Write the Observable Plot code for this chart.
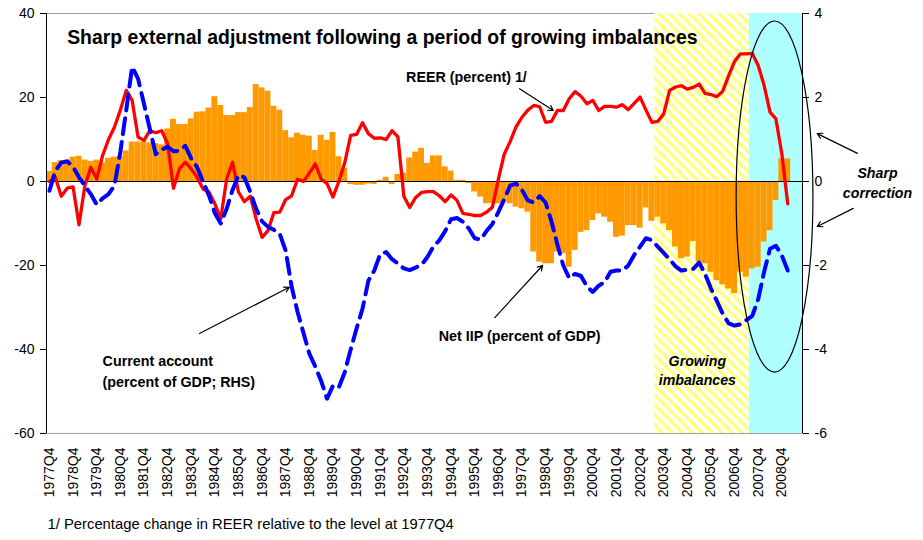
<!DOCTYPE html>
<html>
<head>
<meta charset="utf-8">
<script src="https://cdn.jsdelivr.net/npm/d3@7"></script>
<script src="https://cdn.jsdelivr.net/npm/@observablehq/plot@0.6"></script>
<style>
  body { margin: 0; background: white; }
</style>
</head>
<body>
<div id="chart"></div>
<script>
// ---------- categories ----------
const firstYear = 1977, firstQuarter = 4, nQuarters = 128;
const quarters = [];
for (let k = 0; k < nQuarters; k++) {
  const q0 = firstQuarter - 1 + k;
  quarters.push(`${firstYear + Math.floor(q0 / 4)}Q${(q0 % 4) + 1}`);
}
const tickLabels = quarters.filter(q => q.endsWith("Q4"));

// ---------- series ----------
// Net IIP (percent of GDP), left axis
const niip = [2.4, 4.5, 5.0, 5.1, 5.8, 6.0, 5.1, 4.8, 5.1, 4.4,
  5.5, 5.8, 5.9, 7.3, 9.4, 9.4, 9.4, 9.2, 9.0, 8.7,
  12.5, 14.8, 13.6, 13.6, 14.9, 16.5, 16.6, 17.5, 20.2, 18.1,
  15.7, 15.7, 16.4, 16.4, 17.6, 23.1, 22.3, 21.5, 17.9, 17.0,
  12.1, 10.4, 11.5, 11.0, 10.8, 7.4, 11.0, 9.8, 11.7, 5.9,
  3.1, -0.7, -0.9, -0.9, -0.6, -0.7, 0.3, 1.0, -0.7, 1.7,
  2.0, 5.6, 7.0, 7.9, 4.3, 6.1, 6.1, 3.5, 2.5, 0.3,
  0.3, -0.5, -2.5, -3.7, -5.3, -5.2, -5.3, -4.9, -5.3, -6.1,
  -6.5, -7.3, -16.8, -19.2, -19.6, -19.6, -16.8, -17.2, -20.4, -16.4,
  -12.1, -11.7, -9.3, -7.7, -8.5, -9.7, -13.3, -13.0, -10.5, -10.5,
  -11.1, -6.3, -9.5, -8.5, -10.1, -11.7, -15.6, -18.4, -18.0, -14.3,
  -19.2, -19.6, -21.6, -23.6, -24.6, -25.6, -26.7, -21.6, -22.8, -20.8,
  -20.4, -14.4, -11.7, -4.5, 5.4, 5.4];

// REER (percent change vs 1977Q4), left axis
const reer = [0.0, 1.0, -3.5, -1.6, -1.3, -10.3, -1.0, 3.4, 0.6, 6.2,
  10.0, 12.9, 17.0, 21.7, 19.3, 10.6, 9.8, 12.1, 11.6, 12.1,
  9.0, -1.6, 3.0, 4.6, 3.0, 1.0, -1.8, -2.5, -5.3, -8.9,
  0.6, 4.6, -2.5, -4.8, -3.5, -8.9, -13.3, -11.7, -7.4, -7.3,
  -4.3, -3.4, 0.5, 0.0, 2.0, 4.2, 0.6, -0.5, -3.7, 0.0,
  4.5, 11.0, 11.2, 14.0, 11.4, 10.3, 10.4, 10.0, 12.1, 10.6,
  -3.5, -6.2, -3.8, -2.6, -2.4, -2.4, -3.4, -4.8, -3.2, -4.5,
  -7.6, -7.8, -8.1, -8.1, -7.3, -6.1, 0.5, 6.5, 9.5, 13.0,
  15.3, 17.0, 18.1, 17.8, 14.1, 14.3, 16.9, 16.9, 19.7, 21.4,
  20.3, 18.5, 19.3, 16.9, 17.9, 17.9, 17.7, 18.3, 17.1, 18.6,
  20.1, 17.0, 14.1, 14.3, 16.1, 21.7, 22.5, 22.8, 22.0, 22.4,
  23.2, 21.0, 20.7, 20.2, 21.5, 25.2, 28.6, 30.4, 30.4, 30.5,
  27.6, 22.9, 16.5, 14.9, 6.6, -5.3];

// Current account (percent of GDP), right axis
const currentAccount = [-0.22, 0.25, 0.45, 0.48, 0.35, 0.10, -0.10, -0.30, -0.55, -0.40,
  -0.30, -0.10, 0.70, 1.70, 2.73, 2.45, 1.85, 1.25, 0.65, 0.75,
  0.83, 0.72, 0.73, 0.85, 0.55, 0.34, 0.00, -0.33, -0.75, -1.00,
  -0.65, -0.20, 0.15, 0.10, -0.25, -0.65, -0.95, -1.08, -1.15, -1.25,
  -1.65, -2.50, -3.10, -3.60, -4.10, -4.40, -4.75, -5.17, -4.86, -4.90,
  -4.54, -4.00, -3.50, -3.03, -2.36, -2.12, -1.73, -1.68, -1.85, -1.95,
  -2.07, -2.11, -2.05, -1.98, -1.80, -1.55, -1.40, -1.18, -0.90, -0.87,
  -0.96, -1.12, -1.35, -1.38, -1.18, -1.01, -0.73, -0.42, -0.10, -0.05,
  -0.20, -0.45, -0.50, -0.35, -0.50, -0.95, -1.50, -2.00, -2.30, -2.20,
  -2.25, -2.50, -2.63, -2.48, -2.40, -2.15, -2.12, -2.12, -2.00, -1.75,
  -1.55, -1.35, -1.40, -1.55, -1.70, -1.85, -2.02, -2.12, -2.10, -2.08,
  -1.93, -2.20, -2.55, -2.85, -3.15, -3.38, -3.43, -3.40, -3.30, -3.20,
  -2.80, -2.15, -1.60, -1.53, -1.76, -2.12];

// ---------- axes ----------
const leftTicks = [-60, -40, -20, 0, 20, 40];
const rightTicks = [-6, -4, -2, 0, 2, 4];
const axisRatio = 10; // left units per right unit

// ---------- shaded periods ----------
const periodNames = ["Growing imbalances", "Sharp correction"];
const periodFrom = ["2003Q3", "2007Q3"];
const periodTo = ["2007Q2", "2009Q3"];
const periodFill = ["url(#hatch)", "#afffff"];

// ---------- annotations ----------
const titleText = "Sharp external adjustment following a period of growing imbalances";
const titlePos = {x: 3.0, y: 34.3};
const centeredNotes = [
  {text: "REER (percent) 1/", x: 70.6, y: 24.8},
  {text: "Net IIP (percent of GDP)", x: 79.6, y: -36.9}
];
const leftNotes = [
  {text: "Current account", x: 9.0, y: -42.9},
  {text: "(percent of GDP; RHS)", x: 9.0, y: -47.9}
];
const italicNotes = [
  {text: "Growing", x: 109.7, y: -42.9},
  {text: "imbalances", x: 109.7, y: -47.4},
  {text: "Sharp", x: 140.2, y: 1.9},
  {text: "correction", x: 140.2, y: -2.9}
];
const arrowSpecs = [
  {x1: 79.6, y1: 22.1, x2: 85.3, y2: 16.9},
  {x1: 75.4, y1: -32.4, x2: 83.5, y2: -20.0},
  {x1: 25.4, y1: -36.2, x2: 40.6, y2: -25.2},
  {x1: 136.8, y1: 6.7, x2: 130.0, y2: 11.4},
  {x1: 136.1, y1: -6.4, x2: 130.0, y2: -10.7}
];
const ellipseSpec = {x: 122.85, y: -3.7, rx: 6.5, ry: 41.8};
const footnote = "1/ Percentage change in REER relative to the level at 1977Q4";

// ---------- build ----------
const data = niip.map((v, i) => ({i, q: quarters[i], niip: v, reer: reer[i], ca: currentAccount[i]}));
const periods = periodNames.map((name, k) => ({
  name,
  x1: quarters.indexOf(periodFrom[k]) - 0.5,
  x2: quarters.indexOf(periodTo[k]) + 0.5,
  fill: periodFill[k]
}));
const yMin = leftTicks[0], yMax = leftTicks[leftTicks.length - 1];
const xMin = -0.5, xMax = nQuarters - 0.5;

const chart = Plot.plot({
  width: 923,
  height: 540,
  marginLeft: 46,
  marginRight: 121,
  marginTop: 13,
  marginBottom: 107,
  style: {fontFamily: "'Liberation Sans', Arial, sans-serif", background: "white", color: "black"},
  x: {type: "linear", domain: [xMin, xMax]},
  y: {domain: [yMin, yMax]},
  marks: [
    Plot.frame({stroke: "#a0a0a0"}),
    Plot.rect(periods, {x1: "x1", x2: "x2", y1: yMin, y2: yMax, fill: "fill"}),
    Plot.rectY(data, {x1: d => d.i - 0.5, x2: d => d.i + 0.5, y: "niip", fill: "#ff9900", inset: 0}),
    Plot.ruleY([0], {stroke: "black", strokeWidth: 1}),
    Plot.lineY(data, {x: "i", y: "reer", stroke: "#ff0000", strokeWidth: 3.3, strokeLinejoin: "round"}),
    Plot.lineY(data, {x: "i", y: d => d.ca * axisRatio, stroke: "#0000ff", strokeWidth: 4, strokeDasharray: "16,8"}),
    Plot.ruleX([xMin, xMax], {y1: yMin, y2: yMax, stroke: "black", strokeWidth: 1}),
    Plot.axisY({anchor: "left", ticks: leftTicks, tickSize: 6, tickPadding: 6, tickFormat: d => String(d), fontSize: 14, label: null}),
    Plot.axisY({anchor: "right", ticks: rightTicks.map(d => d * axisRatio), tickSize: 6, tickPadding: 6, tickFormat: d => String(d / axisRatio), fontSize: 14, label: null}),
    Plot.axisX({ticks: tickLabels.map(q => quarters.indexOf(q)), tickFormat: i => quarters[i], tickRotate: -90, tickSize: 0, tickPadding: 14, fontSize: 14, label: null}),
    Plot.text([titleText], {x: titlePos.x, y: titlePos.y, text: d => d, textAnchor: "start", fontWeight: "bold", fontSize: 19.4}),
    Plot.text(centeredNotes, {x: "x", y: "y", text: "text", textAnchor: "middle", fontWeight: "bold", fontSize: 14.3}),
    Plot.text(leftNotes, {x: "x", y: "y", text: "text", textAnchor: "start", fontWeight: "bold", fontSize: 14.3}),
    Plot.text(italicNotes, {x: "x", y: "y", text: "text", fontWeight: "bold", fontStyle: "italic", fontSize: 14.2}),
    Plot.arrow(arrowSpecs, {x1: "x1", y1: "y1", x2: "x2", y2: "y2", stroke: "black", strokeWidth: 1.2, headLength: 7}),
    Plot.text([footnote], {frameAnchor: "bottom-left", dy: 95, dx: 1, text: d => d, textAnchor: "start", fontSize: 14.8})
  ]
});

// hatch pattern for the "growing imbalances" period
const svg = d3.select(chart.tagName.toLowerCase() === "svg" ? chart : chart.querySelector("svg"));
const defs = svg.insert("defs", ":first-child");
const pat = defs.append("pattern").attr("id", "hatch").attr("patternUnits", "userSpaceOnUse")
  .attr("width", 7).attr("height", 7).attr("patternTransform", "rotate(-45)");
pat.append("rect").attr("width", 7).attr("height", 7).attr("fill", "white");
pat.append("rect").attr("width", 3.5).attr("height", 7).attr("fill", "#ffff80");

// ellipse around the correction
const sx = chart.scale("x"), sy = chart.scale("y");
svg.append("ellipse")
  .attr("cx", sx.apply(ellipseSpec.x))
  .attr("cy", sy.apply(ellipseSpec.y))
  .attr("rx", Math.abs(sx.apply(ellipseSpec.x + ellipseSpec.rx) - sx.apply(ellipseSpec.x)))
  .attr("ry", Math.abs(sy.apply(ellipseSpec.y + ellipseSpec.ry) - sy.apply(ellipseSpec.y)))
  .attr("fill", "none").attr("stroke", "black").attr("stroke-width", 1.2);

document.getElementById("chart").appendChild(chart);
</script>
</body>
</html>
